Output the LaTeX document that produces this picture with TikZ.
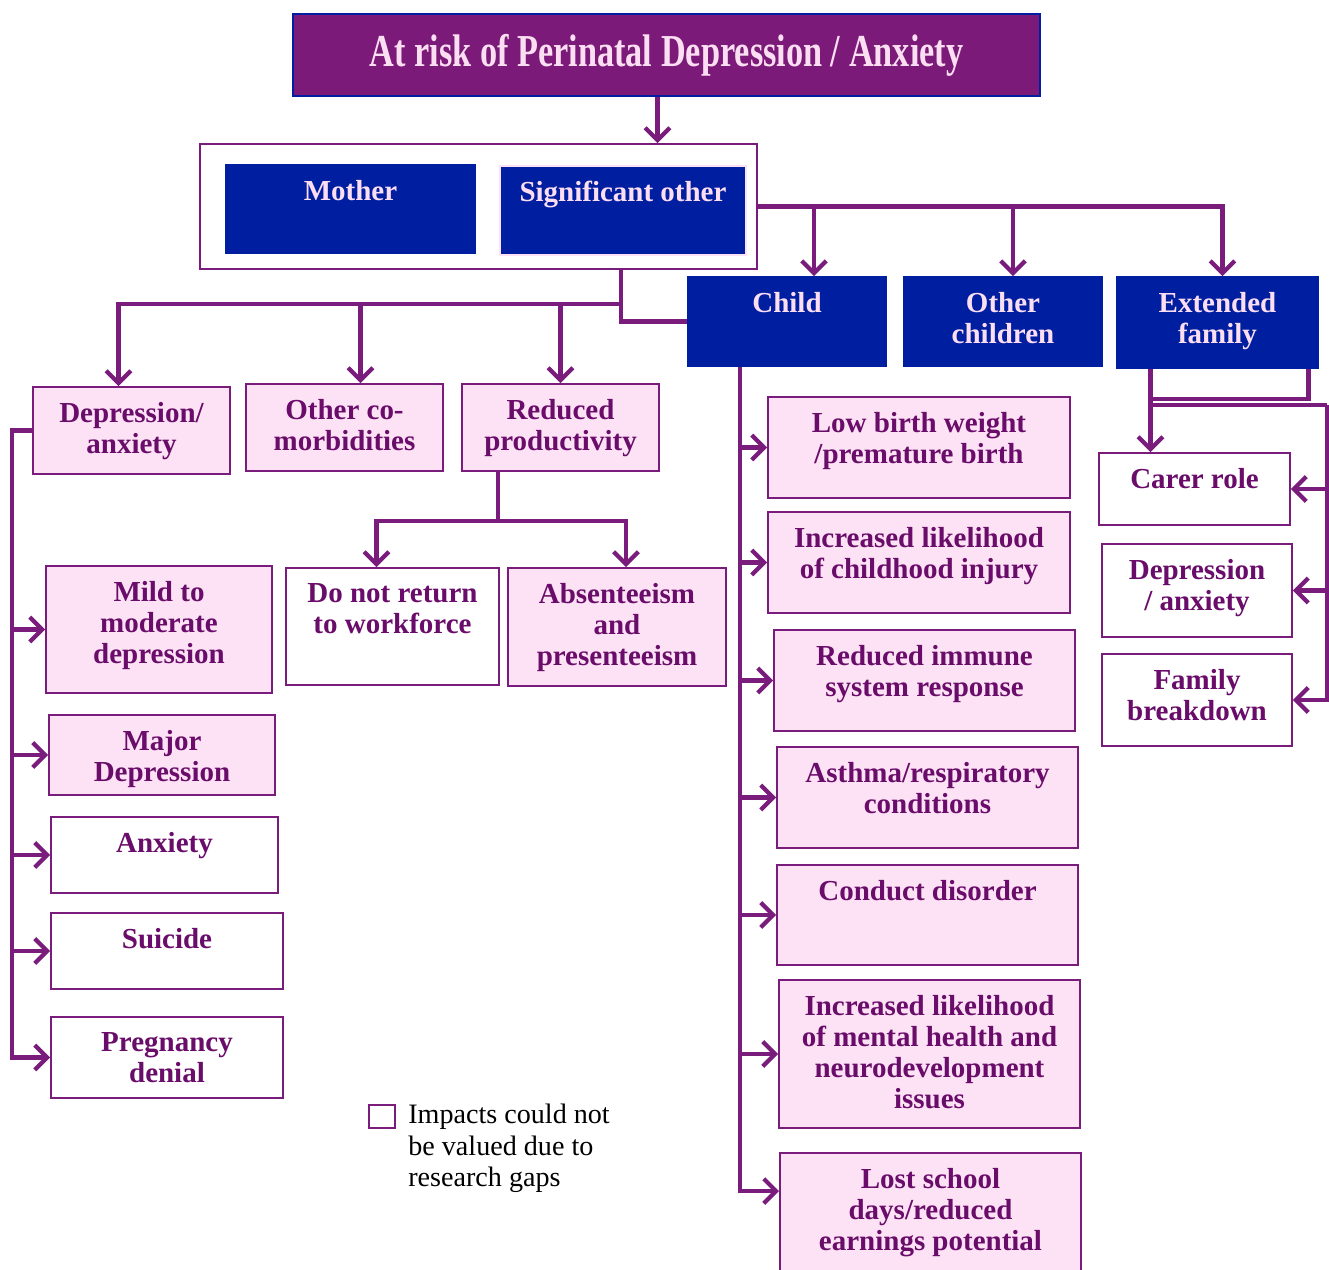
\documentclass[tikz,border=0pt]{standalone}
\usepackage{fontspec}
\setmainfont{Liberation Serif}
\usepackage{graphicx}
\usetikzlibrary{arrows.meta,positioning,fit,calc}
\definecolor{titlepurple}{RGB}{123,26,120}
\definecolor{linepurple}{RGB}{122,28,124}
\definecolor{boxblue}{RGB}{0,30,160}
\definecolor{boxpink}{RGB}{253,226,245}
\definecolor{textpurple}{RGB}{106,12,106}
\definecolor{textpink}{RGB}{252,222,242}

\begin{document}
\begin{tikzpicture}[
  x=0.02cm, y=-0.02cm,
  conn/.style={draw=linepurple,line width=2.4pt},
  arrow/.style={conn,-{Straight Barb[length=7pt,width=14pt]}},
  cell/.style={draw=linepurple,line width=1.1pt,inner sep=0pt},
  pinkcell/.style={cell,fill=boxpink},
  whitecell/.style={cell,fill=white},
  bluecell/.style={fill=boxblue,draw=boxblue,line width=1pt,inner sep=0pt},
  boxtext/.style={anchor=north,yshift=-9pt,inner sep=0pt,align=center,font=\fontsize{16.5}{17.6}\selectfont\bfseries,text=textpurple},
  txt/.style={label={[boxtext]north:#1}},
  btxt/.style={label={[boxtext,text=textpink]north:#1}}
]
\useasboundingbox (0,0) rectangle (1329,1269);
\clip (0,0) rectangle (1329,1269);

\node[fill=titlepurple,draw=boxblue,line width=1pt,inner sep=0pt,
  minimum width=747*0.02cm,minimum height=82*0.02cm,
  text=textpink,font=\fontsize{26}{30}\selectfont\bfseries] (title) at (666.5,55)
  {\resizebox{338pt}{\height}{At risk of Perinatal Depression / Anxiety}};

\node[whitecell,fit={(200,144) (757,269)}] (wrap) {};
\node[bluecell,fit={(226,165) (475,253)},btxt={Mother}] (mother) {};
\node[bluecell,draw=boxpink,fit={(500,166) (746,255)},btxt={Significant other}] (sig) {};

\node[bluecell,fit={(688,277) (886,366)},btxt={Child}] (child) {};
\node[bluecell,fit={(904,277) (1102,366)},btxt={Other\\children}] (other) {};
\node[bluecell,fit={(1117,277) (1318,368)},btxt={Extended\\family}] (ext) {};

\node[pinkcell,fit={(33,387) (230,474)},txt={Depression/\\anxiety}] (dep) {};
\node[pinkcell,fit={(246,384) (443,471)},txt={Other co-\\morbidities}] (como) {};
\node[pinkcell,fit={(462,384) (659,471)},txt={Reduced\\productivity}] (prod) {};
\node[whitecell,fit={(286,568) (499,685)},txt={Do not return\\to workforce}] (nort) {};
\node[pinkcell,fit={(508,568) (726,686)},txt={Absenteeism\\and\\presenteeism}] (absent) {};

\node[pinkcell,fit={(46,566) (272,693)},txt={Mild to\\moderate\\depression}] (mild) {};
\node[pinkcell,fit={(49,715) (275,795)},txt={Major\\Depression}] (major) {};
\node[whitecell,fit={(51,817) (278,893)},txt={Anxiety}] (anx) {};
\node[whitecell,fit={(51,913) (283,989)},txt={Suicide}] (sui) {};
\node[whitecell,fit={(51,1017) (283,1098)},txt={Pregnancy\\denial}] (denial) {};

\node[pinkcell,fit={(768,397) (1070,498)},txt={Low birth weight\\/premature birth}] (lbw) {};
\node[pinkcell,fit={(768,512) (1070,613)},txt={Increased likelihood\\of childhood injury}] (injury) {};
\node[pinkcell,fit={(774,630) (1075,731)},txt={Reduced immune\\system response}] (immune) {};
\node[pinkcell,fit={(777,747) (1078,848)},txt={Asthma/respiratory\\conditions}] (asthma) {};
\node[pinkcell,fit={(777,865) (1078,965)},txt={Conduct disorder}] (conduct) {};
\node[pinkcell,fit={(779,980) (1080,1128)},txt={Increased likelihood\\of mental health and\\neurodevelopment\\issues}] (mental) {};
\node[pinkcell,fit={(780,1153) (1081,1285)},txt={Lost school\\days/reduced\\earnings potential}] (school) {};

\node[whitecell,fit={(1099,453) (1290,525)},txt={Carer role}] (carer) {};
\node[whitecell,fit={(1102,544) (1292,637)},txt={Depression\\/ anxiety}] (fdep) {};
\node[whitecell,fit={(1102,654) (1292,746)},txt={Family\\breakdown}] (fbreak) {};

\node[whitecell,line width=1.3pt,fit={(369,1105) (395,1128)}] (key) {};
\node[anchor=north west,inner sep=0pt,align=left,font=\fontsize{16}{17.9}\selectfont] (note) at (408,1104)
  {Impacts could not\\be valued due to\\research gaps};

% connectors
\coordinate (tA) at ($(title.south)+(-9,0)$);
\draw[arrow] (tA) -- (tA |- wrap.north);

\draw[arrow] (wrap.east) -| ($(child.north)+(27,0)$);
\draw[arrow] (wrap.east) -| ($(other.north)+(10,0)$);
\draw[arrow] (wrap.east) -| ($(ext.north)+(5,0)$);

\coordinate (jM) at (621,304);
\draw[conn] (wrap.south -| jM) |- (child.west);
\draw[arrow] (jM) -| ($(dep.north)+(-13,0)$);
\draw[arrow] (jM) -| ($(como.north)+(16,0)$);
\draw[arrow] (jM) -| (prod.north);

\coordinate (jP) at (498,521);
\draw[conn] (prod.south -| jP) -- (jP);
\draw[arrow] (jP) -| ($(nort.north)+(-16,0)$);
\draw[arrow] (jP) -| ($(absent.north)+(9,0)$);

\coordinate (jL) at ($(dep.west)+(-20,0)$);
\foreach \n in {mild,major,anx,sui,denial}
  \draw[arrow] (dep.west) -- (jL) |- (\n.west);

\coordinate (jC) at ($(child.south)+(-47,0)$);
\foreach \n in {lbw,injury,immune,asthma,conduct,mental}
  \draw[arrow] (jC) |- (\n.west);
\draw[arrow] (jC) |- ($(school.north west)+(0,39)$);

\coordinate (eL) at ($(ext.south)+(-67,0)$);
\coordinate (eR) at ($(ext.south)+(91,0)$);
\draw[conn] (eL) |- ($(ext.south)+(91,30)$) -- (eR);
\draw[arrow] (eL) -- (eL |- carer.north);
\coordinate (eF) at (1327,405);
\draw[conn] (eL |- eF) -- (eF);
\foreach \n in {carer,fdep,fbreak}
  \draw[arrow] (eF) |- (\n.east);
\end{tikzpicture}
\end{document}
